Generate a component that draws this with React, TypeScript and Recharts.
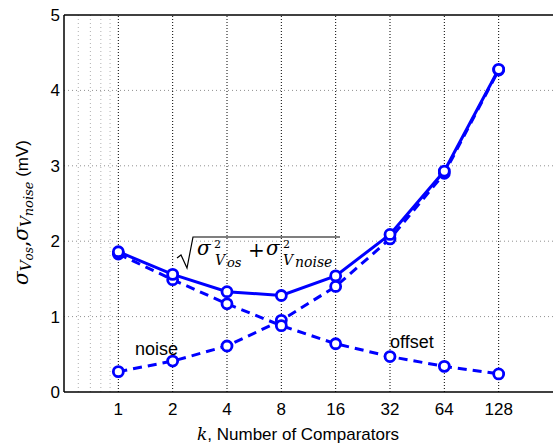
import { LineChart, Line, XAxis, YAxis, ReferenceLine } from 'recharts';

// k (log2 axis) and the three sigma curves, in mV
const kValues = [1, 2, 4, 8, 16, 32, 64, 128];
const totalSigma = [1.86, 1.56, 1.33, 1.28, 1.54, 2.09, 2.93, 4.28];
const offsetSigma = [1.83, 1.49, 1.17, 0.88, 0.64, 0.47, 0.34, 0.24];
const noiseSigma = [0.27, 0.41, 0.61, 0.95, 1.4, 2.03, 2.9, 4.27];

const yTicks = [0, 1, 2, 3, 4, 5];
const minorX = [0.6, 0.7, 0.8, 0.9];

const BLUE = '#0000ff';
const SANS = '"Liberation Sans", Arial, sans-serif';
const MATH = '"DejaVu Serif", serif';

const data = kValues.map((k, i) => ({
    k,
    total: totalSigma[i],
    offset: offsetSigma[i],
    noise: noiseSigma[i],
}));

const Ring = (props: any) => {
    const { cx, cy, index } = props;
    if (cx == null || cy == null) return null;
    return <circle key={index} cx={cx} cy={cy} r={5} fill="#fff" stroke={BLUE} strokeWidth={2.8} />;
};

const XTick = ({ x, y, payload }: any) => (
    <text x={x} y={y + 23} textAnchor="middle" fontFamily={SANS} fontSize={17} fill="#000">
        {payload.value}
    </text>
);

const YTick = ({ x, y, payload }: any) => (
    <text x={x - 4} y={y + 6} textAnchor="end" fontFamily={SANS} fontSize={17} fill="#000">
        {payload.value}
    </text>
);

export default function App() {
    return (
        <div style={{ position: 'fixed', left: 0, top: 0, width: 553, height: 446, background: '#fff' }}>
            <LineChart width={553} height={446} data={data} margin={{ top: 15, right: 0, bottom: 0, left: 0 }}>
                <XAxis
                    dataKey="k"
                    type="number"
                    scale="log"
                    domain={[0.5, 256]}
                    ticks={kValues}
                    allowDataOverflow
                    height={54}
                    tickSize={0}
                    tickMargin={0}
                    tick={<XTick />}
                    stroke="#000"
                    strokeWidth={1.5}
                />
                <YAxis
                    type="number"
                    domain={[0, 5]}
                    ticks={yTicks}
                    width={64}
                    tickSize={0}
                    tickMargin={0}
                    tick={<YTick />}
                    stroke="#000"
                    strokeWidth={1.5}
                />
                {minorX.map((v) => (
                    <ReferenceLine key={'m' + v} x={v} stroke="#b0b0b0" strokeDasharray="1 3" />
                ))}
                {[1, 2, 3, 4].map((v) => (
                    <ReferenceLine key={'h' + v} y={v} stroke="#909090" strokeDasharray="1 3" />
                ))}
                {kValues.map((v) => (
                    <ReferenceLine key={'v' + v} x={v} stroke="#000" strokeDasharray="1 2" />
                ))}
                <ReferenceLine y={5} stroke="#000" strokeWidth={1.5} />
                <Line dataKey="noise" stroke={BLUE} strokeWidth={3} strokeDasharray="9 6" dot={Ring} isAnimationActive={false} />
                <Line dataKey="offset" stroke={BLUE} strokeWidth={3} strokeDasharray="9 6" dot={Ring} isAnimationActive={false} />
                <Line dataKey="total" stroke={BLUE} strokeWidth={3} dot={Ring} isAnimationActive={false} />
            </LineChart>
            <svg width={553} height={446} style={{ position: 'absolute', left: 0, top: 0, pointerEvents: 'none' }}>
                {/* y label */}
                <text transform="translate(28,285) rotate(-90)" fill="#000">
                    <tspan fontFamily={MATH} fontStyle="italic" fontSize={20}>σ</tspan>
                    <tspan fontFamily={MATH} fontStyle="italic" fontSize={15} dy={3}>V</tspan>
                    <tspan fontFamily={MATH} fontStyle="italic" fontSize={12} dy={2}>os</tspan>
                    <tspan fontFamily={MATH} fontSize={20} dy={-5}>,</tspan>
                    <tspan fontFamily={MATH} fontStyle="italic" fontSize={20}>σ</tspan>
                    <tspan fontFamily={MATH} fontStyle="italic" fontSize={15} dy={3}>V</tspan>
                    <tspan fontFamily={MATH} fontStyle="italic" fontSize={13} dy={2}>noise</tspan>
                    <tspan fontFamily={SANS} fontSize={17} dy={-5}> (mV)</tspan>
                </text>
                {/* x label */}
                <text x={197} y={440} fill="#000" fontSize={17}>
                    <tspan fontFamily={MATH} fontStyle="italic">k</tspan>
                    <tspan fontFamily={SANS}>, Number of Comparators</tspan>
                </text>
                {/* annotations */}
                <text x={135} y={355} fontFamily={SANS} fontSize={18} fill="#000">noise</text>
                <text x={390} y={348} fontFamily={SANS} fontSize={18} fill="#000">offset</text>
                <path d="M177 258 L181 255 L187 268 L193 237 L340 237" fill="none" stroke="#000" strokeWidth={1.2} />
                <g fill="#000" fontFamily={MATH} fontStyle="italic">
                    <text x={197} y={255} fontSize={20}>σ</text>
                    <text x={214} y={248} fontSize={11} fontStyle="normal">2</text>
                    <text x={215} y={265} fontSize={14}>V</text>
                    <text x={227} y={267} fontSize={13}>os</text>
                    <text x={248} y={257} fontSize={20} fontStyle="normal">+</text>
                    <text x={266} y={255} fontSize={20}>σ</text>
                    <text x={283} y={248} fontSize={11} fontStyle="normal">2</text>
                    <text x={283} y={265} fontSize={14}>V</text>
                    <text x={295} y={267} fontSize={14}>noise</text>
                </g>
            </svg>
        </div>
    );
}
